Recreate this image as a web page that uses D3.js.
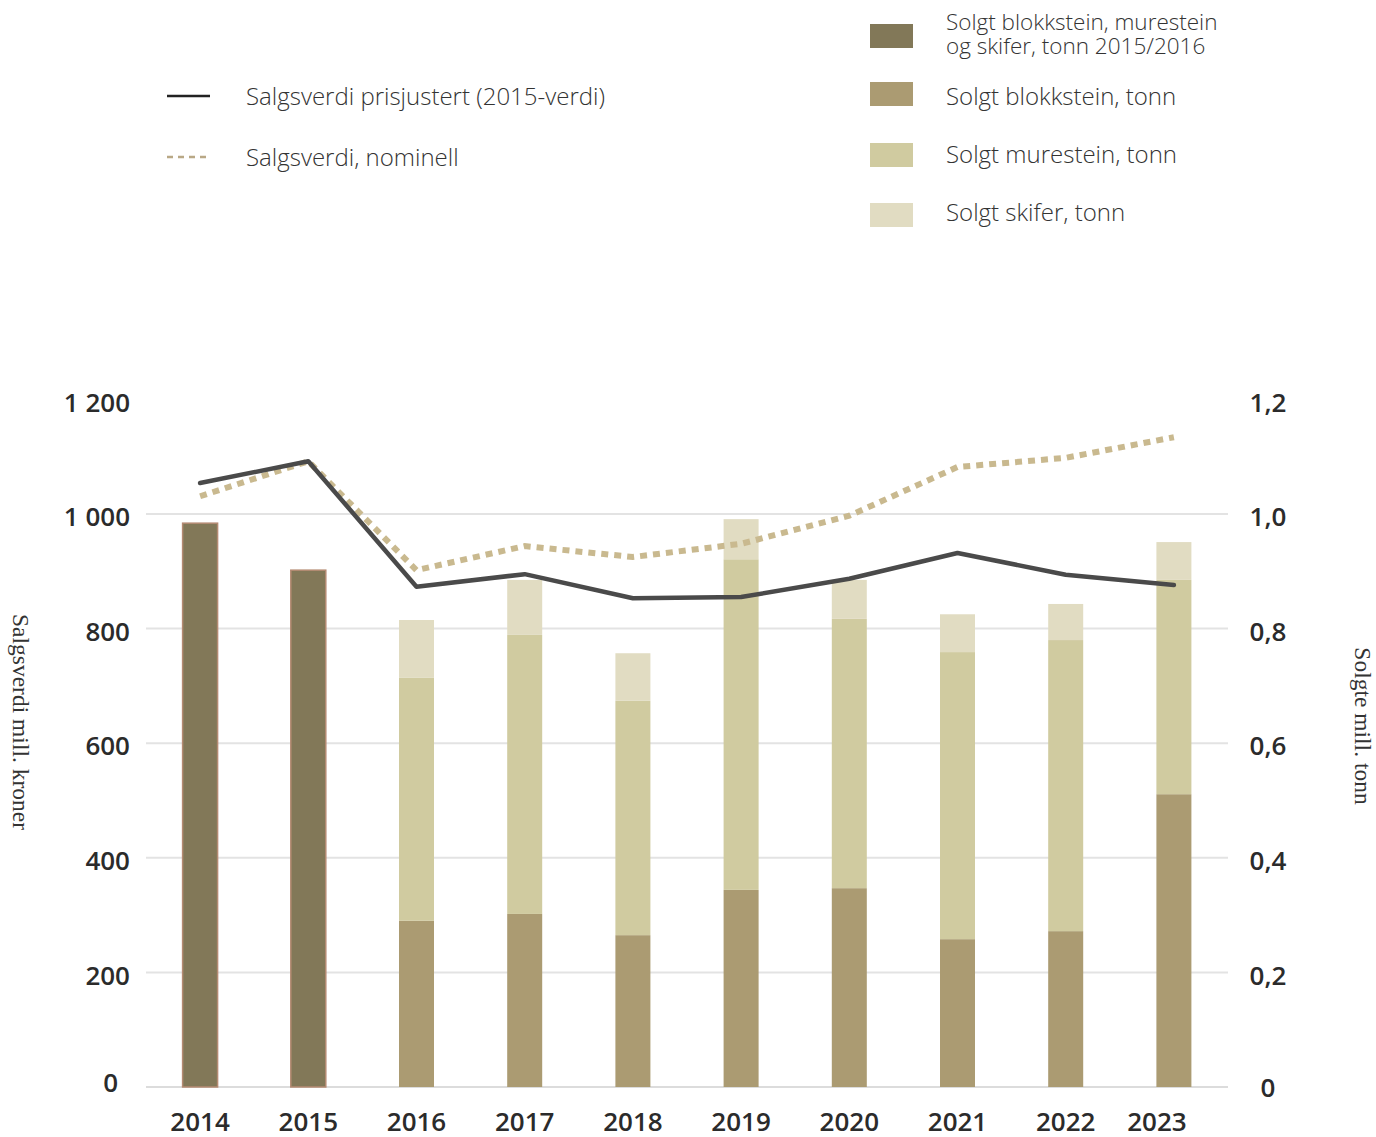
<!DOCTYPE html>
<html>
<head>
<meta charset="utf-8">
<script src="https://cdn.jsdelivr.net/npm/d3@7"></script>
<style>
  body { margin: 0; background: #fff; }
  svg text { font-family: "Open Sans", sans-serif; }
</style>
</head>
<body>
<script>
const years = ["2014", "2015", "2016", "2017", "2018", "2019", "2020", "2021", "2022", "2023"];
// sold, mill. tonn
const totalOld = [0.984, 0.902, null, null, null, null, null, null, null, null];
const blokkstein = [null, null, 0.290, 0.302, 0.265, 0.344, 0.347, 0.258, 0.272, 0.511];
const murestein = [null, null, 0.424, 0.487, 0.409, 0.577, 0.470, 0.501, 0.508, 0.374];
const skifer = [null, null, 0.101, 0.096, 0.083, 0.070, 0.068, 0.066, 0.063, 0.066];
// sales value, mill. kroner
const verdiPrisjustert = [1054, 1092, 873, 895, 853, 855, 887, 932, 894, 876];
const verdiNominell = [1031, 1092, 902, 944, 925, 948, 997, 1082, 1098, 1134];
const leftTicks = [0, 200, 400, 600, 800, 1000, 1200];
const rightTicks = [0, 0.2, 0.4, 0.6, 0.8, 1.0, 1.2];

const width = 1376, height = 1137;
const margin = { top: 400, right: 148, bottom: 50, left: 146 };

const svg = d3.select("body").append("svg")
    .attr("width", width)
    .attr("height", height);

const x = d3.scalePoint()
    .domain(years)
    .range([margin.left, width - margin.right])
    .padding(0.5);

const y = d3.scaleLinear()
    .domain([0, 1200])
    .range([1087, 1087 - 573 * 1.2]);

const yR = d3.scaleLinear()
    .domain([0, 1.2])
    .range(y.range());

const barW = 35;

// gridlines
svg.append("g")
    .selectAll("line")
    .data(leftTicks.filter(d => d < 1200))
    .enter()
    .append("line")
    .attr("x1", margin.left)
    .attr("x2", width - margin.right)
    .attr("y1", d => y(d))
    .attr("y2", d => y(d))
    .attr("stroke", d => d === 0 ? "#dcdcdc" : "#e3e3e3")
    .attr("stroke-width", 2);

// left tick labels
svg.append("g")
    .selectAll("text")
    .data(leftTicks)
    .enter()
    .append("text")
    .attr("x", d => d === 0 ? 118 : 130)
    .attr("y", d => y(d) + (d === 0 ? -4 : 3))
    .attr("dy", "0.35em")
    .attr("text-anchor", "end")
    .style("font-size", "26px")
    .style("font-weight", 600)
    .attr("fill", "#2b2b2b")
    .text(d => d3.format(",")(d).replace(",", " "));

// right tick labels
svg.append("g")
    .selectAll("text")
    .data(rightTicks)
    .enter()
    .append("text")
    .attr("x", 1268)
    .attr("y", d => yR(d) + (d === 0 ? 1 : 3))
    .attr("dy", "0.35em")
    .attr("text-anchor", "middle")
    .style("font-size", "26px")
    .style("font-weight", 600)
    .attr("fill", "#2b2b2b")
    .text(d => d === 0 ? "0" : d3.format(".1f")(d).replace(".", ","));

// year labels
svg.append("g")
    .selectAll("text")
    .data(years)
    .enter()
    .append("text")
    .attr("x", d => x(d) + (d === "2023" ? -17 : 0))
    .attr("y", 1122)
    .attr("dy", "0.35em")
    .attr("text-anchor", "middle")
    .style("font-size", "26px")
    .style("font-weight", 600)
    .attr("fill", "#2b2b2b")
    .text(d => d);

// axis titles
svg.append("text")
    .attr("transform", "translate(13,722) rotate(90)")
    .attr("text-anchor", "middle")
    .style("font-family", "'Liberation Serif', serif")
    .style("font-size", "23.5px")
    .attr("fill", "#333")
    .text("Salgsverdi mill. kroner");

svg.append("text")
    .attr("transform", "translate(1355,726) rotate(90)")
    .attr("text-anchor", "middle")
    .style("font-family", "'Liberation Serif', serif")
    .style("font-size", "23.5px")
    .attr("fill", "#333")
    .text("Solgte mill. tonn");

// old total bars 2014-2015
const oldData = years.map((yr, i) => ({ yr, v: totalOld[i] })).filter(d => d.v != null);
svg.append("g")
    .selectAll("rect")
    .data(oldData)
    .enter()
    .append("rect")
    .attr("x", d => x(d.yr) - barW / 2)
    .attr("y", d => yR(d.v))
    .attr("width", barW)
    .attr("height", d => yR(0) - yR(d.v))
    .attr("fill", "#827858")
    .attr("stroke", "#b48a72")
    .attr("stroke-width", 1.5);

// stacked bars 2016-2023
const keys = ["blokkstein", "murestein", "skifer"];
const colors = { blokkstein: "#ab9b72", murestein: "#d0cba0", skifer: "#e1dcc2" };
const rows = years.map((yr, i) => ({ yr, blokkstein: blokkstein[i], murestein: murestein[i], skifer: skifer[i] }))
    .filter(d => d.blokkstein != null);
const stacked = d3.stack().keys(keys)(rows);

svg.append("g")
    .selectAll("g")
    .data(stacked)
    .enter()
    .append("g")
    .attr("fill", d => colors[d.key])
    .selectAll("rect")
    .data(d => d)
    .enter()
    .append("rect")
    .attr("x", d => x(d.data.yr) - barW / 2)
    .attr("y", d => yR(d[1]))
    .attr("width", barW)
    .attr("height", d => yR(d[0]) - yR(d[1]));

// lines
const line = d3.line()
    .x((d, i) => x(years[i]))
    .y(d => y(d));

svg.append("path")
    .datum(verdiNominell)
    .attr("fill", "none")
    .attr("stroke", "#c9b98f")
    .attr("stroke-width", 6)
    .attr("stroke-dasharray", "7,6")
    .attr("d", line);

svg.append("path")
    .datum(verdiPrisjustert)
    .attr("fill", "none")
    .attr("stroke", "#4a4a4a")
    .attr("stroke-width", 4.5)
    .attr("stroke-linecap", "round")
    .attr("stroke-linejoin", "round")
    .attr("d", line);

// legend: lines
const lineLegend = [
    { label: "Salgsverdi prisjustert (2015-verdi)", y: 96, color: "#222", dash: null },
    { label: "Salgsverdi, nominell", y: 157, color: "#b9a886", dash: "6,5" }
];
const ll = svg.append("g").selectAll("g")
    .data(lineLegend)
    .enter()
    .append("g");
ll.append("line")
    .attr("x1", 167).attr("x2", 210)
    .attr("y1", d => d.y).attr("y2", d => d.y)
    .attr("stroke", d => d.color)
    .attr("stroke-width", 2.5)
    .attr("stroke-dasharray", d => d.dash);
ll.append("text")
    .attr("x", 246)
    .attr("y", d => d.y + 1)
    .attr("dy", "0.35em")
    .style("font-size", "24px")
    .style("font-weight", 300)
    .attr("fill", "#333")
    .text(d => d.label);

// legend: bars
const barLegend = [
    { lines: ["Solgt blokkstein, murestein", "og skifer, tonn 2015/2016"], y: 24, ty: 22, size: 22.5, color: "#827858" },
    { lines: ["Solgt blokkstein, tonn"], y: 82, ty: 97, size: 24, color: "#ab9b72" },
    { lines: ["Solgt murestein, tonn"], y: 143, ty: 155, size: 24, color: "#d0cba0" },
    { lines: ["Solgt skifer, tonn"], y: 203, ty: 213, size: 24, color: "#e1dcc2" }
];
const bl = svg.append("g").selectAll("g")
    .data(barLegend)
    .enter()
    .append("g");
bl.append("rect")
    .attr("x", 870)
    .attr("y", d => d.y)
    .attr("width", 43)
    .attr("height", 24)
    .attr("fill", d => d.color);
bl.append("text")
    .attr("x", 946)
    .attr("y", d => d.ty)
    .style("font-size", d => d.size + "px")
    .style("font-weight", 300)
    .attr("fill", "#333")
    .selectAll("tspan")
    .data(d => d.lines)
    .enter()
    .append("tspan")
    .attr("x", 946)
    .attr("dy", (d, i) => i === 0 ? "0.35em" : "24")
    .text(d => d);
</script>
</body>
</html>
